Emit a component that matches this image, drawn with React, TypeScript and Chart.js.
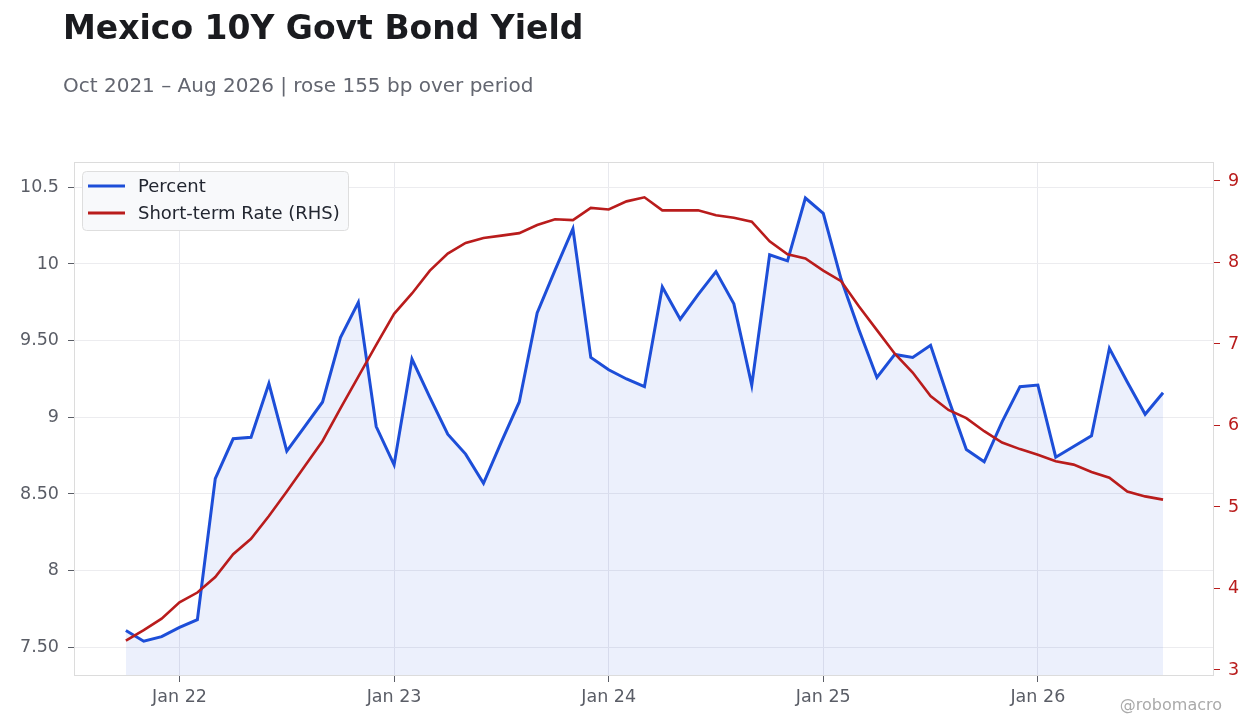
import React, { useEffect, useRef } from "react";
import { Chart, registerables } from "chart.js";

Chart.register(...registerables);

const TITLE = "Mexico 10Y Govt Bond Yield";
const SUBTITLE = "Oct 2021 – Aug 2026 | rose 155 bp over period";
const WATERMARK = "@robomacro";

const months = [
  "Oct 21", "Nov 21", "Dec 21",
  "Jan 22", "Feb 22", "Mar 22", "Apr 22", "May 22", "Jun 22", "Jul 22", "Aug 22", "Sep 22", "Oct 22", "Nov 22", "Dec 22",
  "Jan 23", "Feb 23", "Mar 23", "Apr 23", "May 23", "Jun 23", "Jul 23", "Aug 23", "Sep 23", "Oct 23", "Nov 23", "Dec 23",
  "Jan 24", "Feb 24", "Mar 24", "Apr 24", "May 24", "Jun 24", "Jul 24", "Aug 24", "Sep 24", "Oct 24", "Nov 24", "Dec 24",
  "Jan 25", "Feb 25", "Mar 25", "Apr 25", "May 25", "Jun 25", "Jul 25", "Aug 25", "Sep 25", "Oct 25", "Nov 25", "Dec 25",
  "Jan 26", "Feb 26", "Mar 26", "Apr 26", "May 26", "Jun 26", "Jul 26", "Aug 26",
];

const percent = [
  7.61, 7.54, 7.57,
  7.63, 7.68, 8.60, 8.86, 8.87, 9.22, 8.78, 8.94, 9.10, 9.52, 9.75, 8.94,
  8.69, 9.38, 9.13, 8.89, 8.76, 8.57, 8.84, 9.10, 9.68, 9.96, 10.23, 9.39,
  9.31, 9.25, 9.20, 9.85, 9.64, 9.80, 9.95, 9.74, 9.21, 10.06, 10.02, 10.43,
  10.33, 9.90, 9.57, 9.26, 9.41, 9.39, 9.47, 9.12, 8.79, 8.71, 8.97, 9.20,
  9.21, 8.74, 8.81, 8.88, 9.45, 9.23, 9.02, 9.16,
];

const shortRate = [
  3.36, 3.49, 3.63,
  3.83, 3.95, 4.14, 4.42, 4.61, 4.89, 5.19, 5.50, 5.81, 6.21, 6.60, 6.99,
  7.37, 7.62, 7.90, 8.11, 8.24, 8.30, 8.33, 8.36, 8.46, 8.53, 8.52, 8.67,
  8.65, 8.75, 8.80, 8.64, 8.64, 8.64, 8.58, 8.55, 8.50, 8.26, 8.10, 8.05,
  7.90, 7.77, 7.46, 7.17, 6.88, 6.65, 6.36, 6.19, 6.09, 5.93, 5.79, 5.71,
  5.64, 5.56, 5.52, 5.43, 5.36, 5.19, 5.13, 5.09,
];

const leftTickValues = [7.5, 8, 8.5, 9, 9.5, 10, 10.5];
const leftTickLabels = ["7.50", "8", "8.50", "9", "9.50", "10", "10.5"];
const rightTickValues = [3, 4, 5, 6, 7, 8, 9];
const seriesLabels = ["Percent", "Short-term Rate (RHS)"];

const BLUE = "#1d4ed8";
const RED = "#b91c1c";
const FONT = "'DejaVu Sans', sans-serif";

const legendPlugin = {
  id: "insideLegend",
  afterDraw(chart: any) {
    const ctx = chart.ctx;
    const x = 82, y = 171, w = 266, h = 59;
    ctx.save();
    ctx.beginPath();
    if (ctx.roundRect) ctx.roundRect(x + 0.5, y + 0.5, w, h, 4);
    else ctx.rect(x + 0.5, y + 0.5, w, h);
    ctx.fillStyle = "rgba(248,249,251,0.96)";
    ctx.fill();
    ctx.strokeStyle = "#dedede";
    ctx.lineWidth = 1;
    ctx.stroke();
    const items = chart.data.datasets;
    items.forEach((ds: any, i: number) => {
      const ly = 186 + i * 27;
      ctx.beginPath();
      ctx.moveTo(88, ly);
      ctx.lineTo(125, ly);
      ctx.strokeStyle = ds.borderColor;
      ctx.lineWidth = 3;
      ctx.stroke();
      ctx.fillStyle = "#222630";
      ctx.font = `18px ${FONT}`;
      ctx.textBaseline = "middle";
      ctx.textAlign = "left";
      ctx.fillText(ds.label, 138, ly + 1);
    });
    ctx.restore();
  },
};

const borderPlugin = {
  id: "plotBorder",
  afterDatasetsDraw(chart: any) {
    const { ctx, chartArea } = chart;
    ctx.save();
    ctx.strokeStyle = "#dcdcdc";
    ctx.lineWidth = 1;
    ctx.strokeRect(
      chartArea.left + 0.5,
      chartArea.top + 0.5,
      chartArea.right - chartArea.left - 1,
      chartArea.bottom - chartArea.top - 1
    );
    ctx.restore();
  },
};

export default function App() {
  const ref = useRef<HTMLCanvasElement | null>(null);

  useEffect(() => {
    if (!ref.current) return;
    Chart.defaults.font.family = FONT;
    const janIdx = months.map((m, i) => (m.startsWith("Jan") ? i : -1)).filter((i) => i >= 0);
    const chart = new Chart(ref.current, {
      type: "line",
      data: {
        datasets: [
          {
            label: seriesLabels[0],
            data: percent.map((v, i) => ({ x: i, y: v })),
            borderColor: BLUE,
            backgroundColor: "rgba(29,78,216,0.085)",
            borderWidth: 3,
            fill: "start",
            pointRadius: 0,
            tension: 0,
            yAxisID: "y",
            order: 2,
          },
          {
            label: seriesLabels[1],
            data: shortRate.map((v, i) => ({ x: i, y: v })),
            borderColor: RED,
            backgroundColor: RED,
            borderWidth: 2.6,
            fill: false,
            pointRadius: 0,
            tension: 0,
            yAxisID: "y1",
            order: 1,
          },
        ],
      },
      options: {
        animation: false,
        responsive: false,
        maintainAspectRatio: false,
        layout: { padding: { top: 162, left: 0, right: 0, bottom: 0 } },
        plugins: {
          legend: { display: false },
          title: { display: false },
          tooltip: { enabled: false },
        },
        scales: {
          x: {
            type: "linear",
            min: -2.9,
            max: 60.85,
            afterBuildTicks: (s: any) => {
              s.ticks = janIdx.map((v) => ({ value: v }));
            },
            afterFit: (s: any) => {
              s.height = 52;
            },
            ticks: {
              callback: (v: any) => months[Number(v)] ?? "",
              color: "#5a5d66",
              font: { size: 17.5 },
              padding: 5,
              maxRotation: 0,
              autoSkip: false,
            },
            grid: {
              color: "#e8e9ee",
              tickColor: "#5a5d66",
              tickLength: 6,
            },
            border: { display: false },
          },
          y: {
            position: "left",
            min: 7.313,
            max: 10.665,
            afterBuildTicks: (s: any) => {
              s.ticks = leftTickValues.map((v) => ({ value: v }));
            },
            afterFit: (s: any) => {
              s.width = 74;
            },
            ticks: {
              callback: (v: any) => {
                const i = leftTickValues.indexOf(Number(v));
                return i >= 0 ? leftTickLabels[i] : "";
              },
              color: "#5a5d66",
              font: { size: 17.5 },
              padding: 9,
            },
            grid: {
              color: "#ececef",
              tickColor: "#5a5d66",
              tickLength: 6,
            },
            border: { display: false },
          },
          y1: {
            position: "right",
            min: 2.926,
            max: 9.233,
            afterBuildTicks: (s: any) => {
              s.ticks = rightTickValues.map((v) => ({ value: v }));
            },
            afterFit: (s: any) => {
              s.width = 46;
            },
            ticks: {
              color: RED,
              font: { size: 17.5 },
              padding: 8,
            },
            grid: {
              drawOnChartArea: false,
              tickColor: RED,
              tickLength: 6,
            },
            border: { display: false },
          },
        },
      },
      plugins: [borderPlugin, legendPlugin],
    } as any);
    return () => chart.destroy();
  }, []);

  return (
    <div
      style={{
        position: "fixed",
        left: 0,
        top: 0,
        width: 1260,
        height: 728,
        background: "#ffffff",
        fontFamily: FONT,
        overflow: "hidden",
      }}
    >
      <canvas
        ref={ref}
        width={1260}
        height={728}
        style={{ position: "absolute", left: 0, top: 0, width: 1260, height: 728 }}
      />
      <div
        style={{
          position: "absolute",
          left: 63,
          top: 10,
          fontSize: 33,
          lineHeight: "36px",
          fontWeight: "bold",
          color: "#1a1b1f",
          whiteSpace: "nowrap",
        }}
      >
        {TITLE}
      </div>
      <div
        style={{
          position: "absolute",
          left: 63,
          top: 74,
          fontSize: 20,
          lineHeight: "22px",
          color: "#636670",
          whiteSpace: "nowrap",
        }}
      >
        {SUBTITLE}
      </div>
      <div
        style={{
          position: "absolute",
          right: 38,
          top: 695,
          fontSize: 16,
          lineHeight: "20px",
          color: "#aaaaaa",
          whiteSpace: "nowrap",
        }}
      >
        {WATERMARK}
      </div>
    </div>
  );
}
